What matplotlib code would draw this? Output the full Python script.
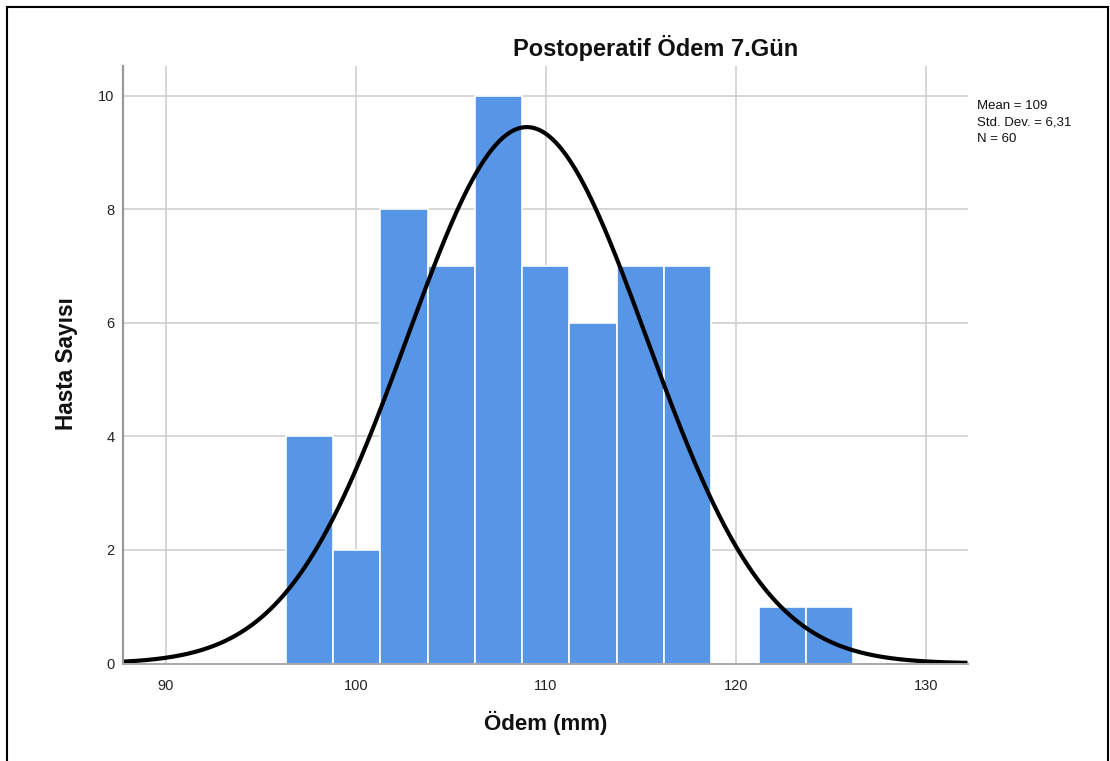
import numpy as np
import matplotlib
matplotlib.use("Agg")
import matplotlib.pyplot as plt
from matplotlib.patches import Rectangle

plt.rcParams['font.family'] = ['Liberation Sans', 'DejaVu Sans']

# Histogram data: Postoperatif Ödem 7.Gün
bin_start = 96.3
bin_width = 2.49
counts = [4, 2, 8, 7, 10, 7, 6, 7, 7, 0, 1, 1]
mean_val = 109.0
std_val = 6.31
n_val = 60

x_ticks = [90, 100, 110, 120, 130]
y_ticks = [0, 2, 4, 6, 8, 10]
stats_lines = ["Mean = 109", "Std. Dev. = 6,31", "N = 60"]

W, H = 1110, 761
fig = plt.figure(figsize=(W / 100, H / 100), dpi=100)
fig.patch.set_facecolor("white")

ax = fig.add_axes([123 / W, 1 - 663.5 / H, (967.5 - 123) / W, (663.5 - 65.5) / H])
ax.set_xlim(87.737, 132.2)
ax.set_ylim(0, 10.53)

# grid
grid_c = "#cfcfcf"
for xv in x_ticks:
    ax.axvline(xv, color=grid_c, lw=1.2, zorder=0)
for yv in y_ticks[1:]:
    ax.axhline(yv, color=grid_c, lw=1.2, zorder=0)

# bars
lefts = [bin_start + i * bin_width for i in range(len(counts))]
ax.bar(lefts, counts, width=bin_width, align="edge", color="#5795E6",
       edgecolor="white", linewidth=1.2, zorder=2)

# normal curve scaled to counts
xs = np.linspace(87.737, 132.2, 600)
ys = n_val * bin_width / (std_val * np.sqrt(2 * np.pi)) * np.exp(-0.5 * ((xs - mean_val) / std_val) ** 2)
ax.plot(xs, ys, color="black", lw=3.0, zorder=3, solid_capstyle="butt")

ax.set_xticks(x_ticks)
ax.set_yticks(y_ticks)
ax.tick_params(axis="both", length=0, labelsize=10.5, colors="#222222")
ax.tick_params(axis="x", pad=11)
ax.tick_params(axis="y", pad=6)
for s in ["top", "right"]:
    ax.spines[s].set_visible(False)
ax.spines["left"].set_color("#999999")
ax.spines["left"].set_linewidth(1.6)
ax.spines["bottom"].set_color("#a8a8a8")
ax.spines["bottom"].set_linewidth(1.4)
ax.spines["left"].set_zorder(4)
ax.spines["bottom"].set_zorder(4)

# texts
fig.text(656 / W, 1 - 48 / H, "Postoperatif Ödem 7.Gün", ha="center", va="center",
         fontsize=17, fontweight="bold", color="#111111")
fig.text(546 / W, 1 - 723 / H, "Ödem (mm)", ha="center", va="center",
         fontsize=16, fontweight="bold", color="#111111")
fig.text(66 / W, 1 - 364 / H, "Hasta Sayısı", ha="center", va="center", rotation=90,
         fontsize=16.3, fontweight="bold", color="#111111")
for i, line in enumerate(stats_lines):
    fig.text(977 / W, 1 - (109 + 16.5 * i) / H, line, ha="left", va="baseline",
             fontsize=9.5, color="#111111")

# outer frame
fig.patches.append(Rectangle((7 / W, -0.02), (1108 - 7) / W, 1.02 - 7 / H,
                             transform=fig.transFigure, fill=False,
                             edgecolor="black", linewidth=1.5))

fig.savefig("out.png", dpi=100)
